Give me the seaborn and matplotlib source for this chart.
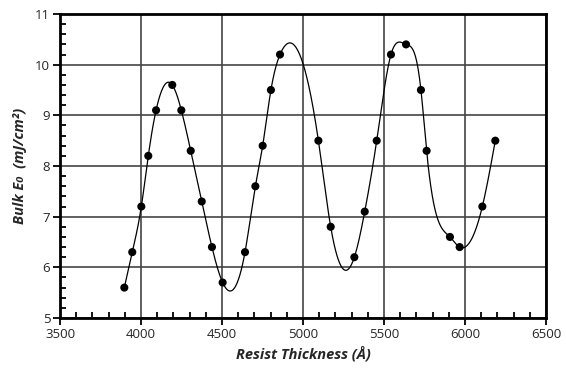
import numpy as np
import pandas as pd
import matplotlib
matplotlib.use("Agg")
import matplotlib.pyplot as plt
from matplotlib.ticker import MultipleLocator
import seaborn as sns

thickness = [3897, 3946, 4002, 4045, 4093, 4193, 4249, 4307, 4375, 4438, 4504,
             4642, 4706, 4751, 4802, 4858, 5095, 5171, 5317, 5381, 5455, 5543,
             5636, 5728, 5763, 5907, 5967, 6107, 6187]
e0 = [5.6, 6.3, 7.2, 8.2, 9.1, 9.6, 9.1, 8.3, 7.3, 6.4, 5.7,
      6.3, 7.6, 8.4, 9.5, 10.2, 8.5, 6.8, 6.2, 7.1, 8.5, 10.2,
      10.4, 9.5, 8.3, 6.6, 6.4, 7.2, 8.5]
x_ticks = [3500, 4000, 4500, 5000, 5500, 6000, 6500]
y_ticks = [5, 6, 7, 8, 9, 10, 11]


def natural_spline(x, y, xs):
    x = np.asarray(x, float); y = np.asarray(y, float)
    n = len(x)
    h = np.diff(x)
    A = np.zeros((n, n)); b = np.zeros(n)
    A[0, 0] = 1; A[-1, -1] = 1
    for i in range(1, n - 1):
        A[i, i - 1] = h[i - 1]
        A[i, i] = 2 * (h[i - 1] + h[i])
        A[i, i + 1] = h[i]
        b[i] = 6 * ((y[i + 1] - y[i]) / h[i] - (y[i] - y[i - 1]) / h[i - 1])
    M = np.linalg.solve(A, b)
    idx = np.clip(np.searchsorted(x, xs) - 1, 0, n - 2)
    x0, x1 = x[idx], x[idx + 1]; hh = x1 - x0
    t0 = x1 - xs; t1 = xs - x0
    return (M[idx] * t0**3 / (6 * hh) + M[idx + 1] * t1**3 / (6 * hh)
            + (y[idx] / hh - M[idx] * hh / 6) * t0
            + (y[idx + 1] / hh - M[idx + 1] * hh / 6) * t1)


xs = np.linspace(thickness[0], thickness[-1], 800)
curve = pd.DataFrame({"x": xs, "y": natural_spline(thickness, e0, xs)})
pts = pd.DataFrame({"x": thickness, "y": e0})

sns.set_style("white")
plt.rcParams["font.family"] = ["Open Sans", "DejaVu Sans"]

fig = plt.figure(figsize=(5.66, 3.68), dpi=100)
ax = fig.add_axes([60 / 566, 50 / 368, 486 / 566, 304 / 368])

ax.grid(True, which="major", color="#444444", linewidth=1.2)
ax.set_axisbelow(True)
sns.lineplot(data=curve, x="x", y="y", ax=ax, color="black", linewidth=0.9,
             estimator=None, sort=False)
sns.scatterplot(data=pts, x="x", y="y", ax=ax, color="black", s=34,
                edgecolor="none", zorder=3)

ax.set_xlim(3500, 6500)
ax.set_ylim(5, 11)
ax.set_xticks(x_ticks)
ax.set_yticks(y_ticks)
ax.xaxis.set_minor_locator(MultipleLocator(100))
ax.yaxis.set_minor_locator(MultipleLocator(0.2))
ax.tick_params(which="major", direction="out", length=5, width=1.3,
               labelsize=9.5, color="black", pad=2)
ax.tick_params(which="minor", direction="in", length=4, width=1.3, color="black")
ax.tick_params(axis="both", which="both", bottom=True, left=True)
for s in ax.spines.values():
    s.set_visible(True)
    s.set_color("black")
    s.set_linewidth(2)

ax.set_xlabel("Resist Thickness (Å)", fontsize=10.5, fontweight="bold",
              fontstyle="italic", labelpad=4)
ax.set_ylabel("Bulk E₀  (mJ/cm²)", fontsize=10.5, fontweight="bold",
              fontstyle="italic", labelpad=6)

fig.savefig("out.png", dpi=100)
